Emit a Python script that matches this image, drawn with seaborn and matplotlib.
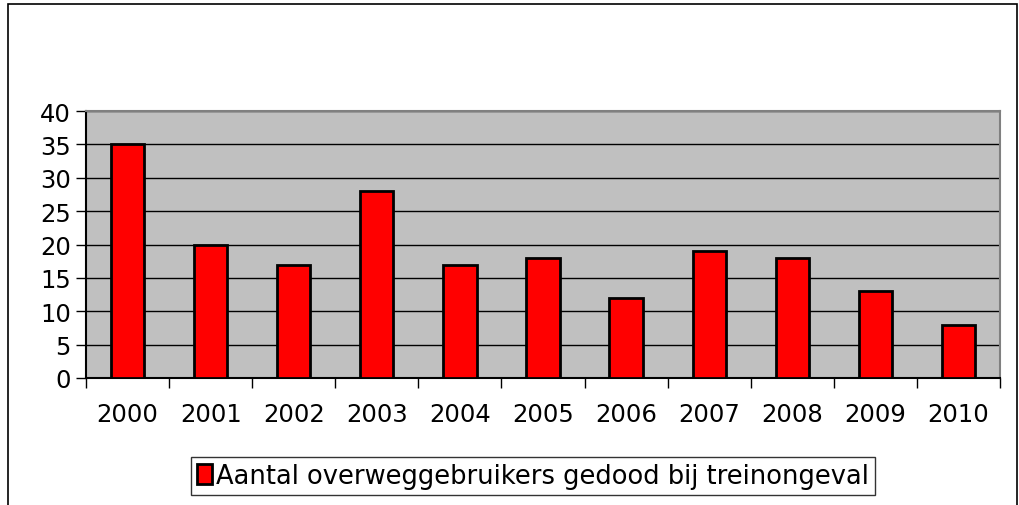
import numpy as np
import matplotlib
matplotlib.use("Agg")
import matplotlib.pyplot as plt
from matplotlib.patches import Rectangle
import seaborn as sns
import pandas as pd

years = ["2000", "2001", "2002", "2003", "2004", "2005", "2006", "2007", "2008", "2009", "2010"]
killed = [35, 20, 17, 28, 17, 18, 12, 19, 18, 13, 8]
label = "Aantal overweggebruikers gedood bij treinongeval"

sns.set_style("white")
plt.rcParams["font.family"] = ["DejaVu Sans"]
plt.rcParams["text.color"] = "black"
plt.rcParams["xtick.color"] = "black"
plt.rcParams["ytick.color"] = "black"

df = pd.DataFrame({"jaar": years, "aantal": killed})

fig = plt.figure(figsize=(10.2, 5.06), dpi=100)
ax = fig.add_axes([86 / 1020, 1 - 379 / 506, 914 / 1020, 267 / 506])
ax.set_facecolor("#C0C0C0")

sns.barplot(data=df, x="jaar", y="aantal", color="#FF0000", width=0.4,
            edgecolor="black", linewidth=2, saturation=1, ax=ax, label=label, zorder=3)

ax.set_ylim(0, 40)
ax.set_xlim(-0.5, len(years) - 0.5)
ax.set_yticks(range(0, 41, 5))
ax.yaxis.grid(True, color="black", linewidth=1, zorder=0)
ax.set_axisbelow(True)
ax.set_xlabel("")
ax.set_ylabel("")
for s in ax.spines.values():
    s.set_color("#808080")
    s.set_linewidth(1.5)
ax.spines["left"].set_color("black")
ax.spines["bottom"].set_color("black")

ax.tick_params(axis="y", length=7, width=1, labelsize=17.5, pad=4, left=True)
ax.tick_params(axis="x", which="major", length=0, labelsize=17.5, pad=17)
ax.set_xticks(np.arange(-0.5, len(years), 1), minor=True)
ax.tick_params(axis="x", which="minor", length=7, width=1, bottom=True)

leg = ax.legend(loc="center", bbox_to_anchor=(533 / 1020, 1 - 477 / 506),
                bbox_transform=fig.transFigure, fontsize=18.5, frameon=True,
                fancybox=False, edgecolor="black", handlelength=0.6, handleheight=0.8,
                handletextpad=0.15, borderpad=0.25)
leg.get_frame().set_linewidth(1)

fig.patches.append(Rectangle((8 / 1020, -0.05), 1009 / 1020, 1 - 5 / 506 + 0.05,
                             transform=fig.transFigure, fill=False,
                             edgecolor="black", linewidth=1.2))

fig.savefig("out.png", dpi=100)
